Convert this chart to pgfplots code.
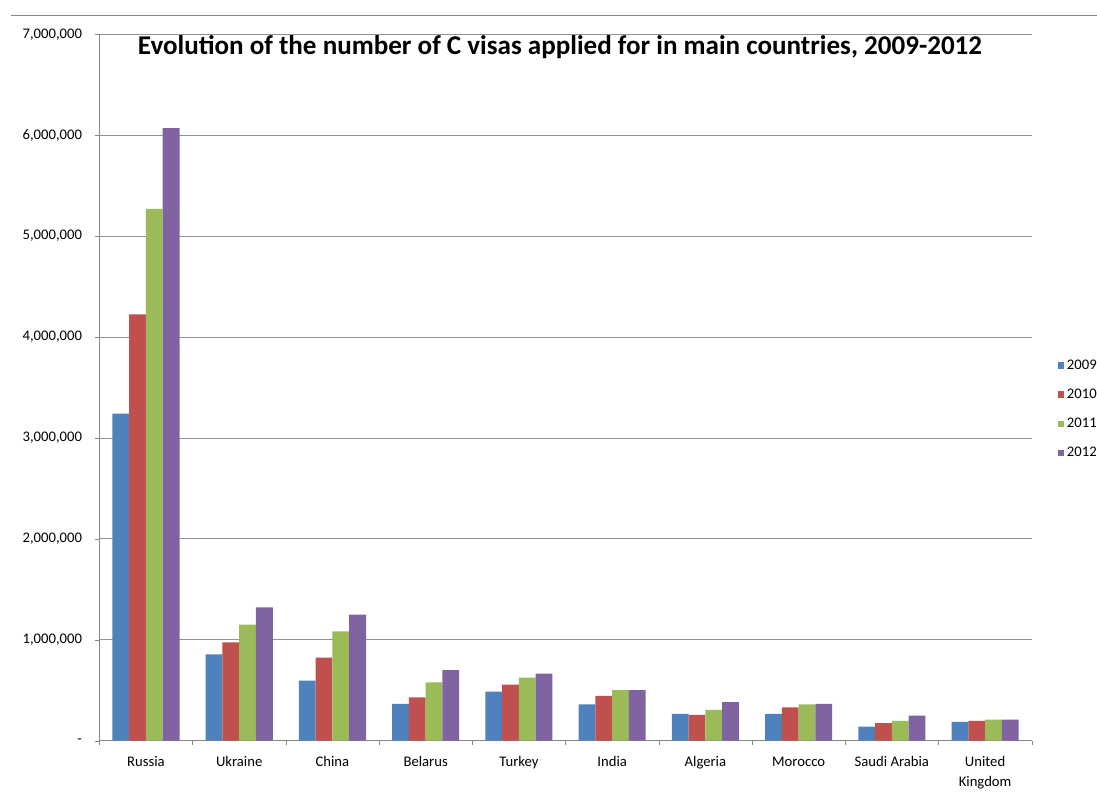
\documentclass[border=0pt]{standalone}
\usepackage{pgfplots}
\pgfplotsset{compat=1.18}
\usepackage{pgfplotstable}
\usepackage{fontspec}
\setmainfont{Carlito}

\definecolor{c2009}{HTML}{4F81BD}
\definecolor{c2010}{HTML}{C0504D}
\definecolor{c2011}{HTML}{9BBB59}
\definecolor{c2012}{HTML}{8064A2}
\definecolor{gridgray}{HTML}{868686}

% C visas applied for, by country (0 = Russia ... 9 = United Kingdom)
\pgfplotstableread{
idx  y2009    y2010    y2011    y2012
0    3240000  4225000  5270000  6070000
1    854000   973000   1149000  1322000
2    595000   824000   1083000  1249000
3    365000   429000   578000   698000
4    485000   555000   625000   664000
5    359000   445000   502000   502000
6    266000   256000   306000   382000
7    266000   329000   359000   365000
8    140000   173000   196000   249000
9    186000   196000   209000   209000
}\visas

\begin{document}
\begin{tikzpicture}
\begin{axis}[
    at={(74.5pt,40pt)}, anchor=south west,
    scale only axis, width=699.3pt, height=529.8pt,
    xmin=-0.5, xmax=9.5, ymin=0, ymax=7000000,
    ybar=0pt, bar width=0.18,
    axis x line*=bottom, axis y line*=left,
    axis line style={-, draw=gridgray},
    tick align=outside, major tick length=3.5pt,
    tick style={draw=gridgray},
    ymajorgrids, grid style={draw=gridgray!90, line width=0.6pt},
    scaled y ticks=false,
    ytick={0,1000000,...,7000000},
    yticklabels={{-\hspace{4.5pt}},{1,000,000},{2,000,000},{3,000,000},{4,000,000},{5,000,000},{6,000,000},{7,000,000}},
    yticklabel style={font=\fontsize{11}{13}\selectfont, xshift=-6pt},
    xtick={-0.5,0.5,...,9.5}, xticklabels={},
    extra x ticks={0,1,2,3,4,5,6,7,8,9},
    extra x tick labels={\strut Russia,\strut Ukraine,\strut China,\strut Belarus,\strut Turkey,
        \strut India,\strut Algeria,\strut Morocco,\strut Saudi Arabia,{\strut United\\Kingdom}},
    extra x tick style={major tick length=0pt, grid=none,
        tick label style={align=center, anchor=north, yshift=-5.5pt,
            font=\fontsize{11}{15}\selectfont}},
    legend style={at={(1.0275,0.469)}, anchor=west, draw=none, fill=none,
        font=\fontsize{11}{13}\selectfont, row sep=9.2pt, inner sep=0pt},
    legend cell align=left,
    legend image code/.code={\draw[#1,draw=none] (0pt,-2.5pt) rectangle (5pt,2.5pt);},
]
\addplot[fill=c2009, draw=none] table[x=idx, y=y2009] {\visas};
\addplot[fill=c2010, draw=none] table[x=idx, y=y2010] {\visas};
\addplot[fill=c2011, draw=none] table[x=idx, y=y2011] {\visas};
\addplot[fill=c2012, draw=none] table[x=idx, y=y2012] {\visas};
\legend{2009,2010,2011,2012}
\end{axis}
\node[anchor=base, font=\fontsize{20.3}{24}\selectfont\bfseries] at (420pt,554.25pt)
    {Evolution of the number of C visas applied for in main countries, 2009-2012};
\draw[gridgray, line width=0.9pt] (8.25pt,583.7pt) -- (822.75pt,583.7pt);
\pgfresetboundingbox
\useasboundingbox (0,0) rectangle (822.75pt,595.5pt);
\end{tikzpicture}
\end{document}
